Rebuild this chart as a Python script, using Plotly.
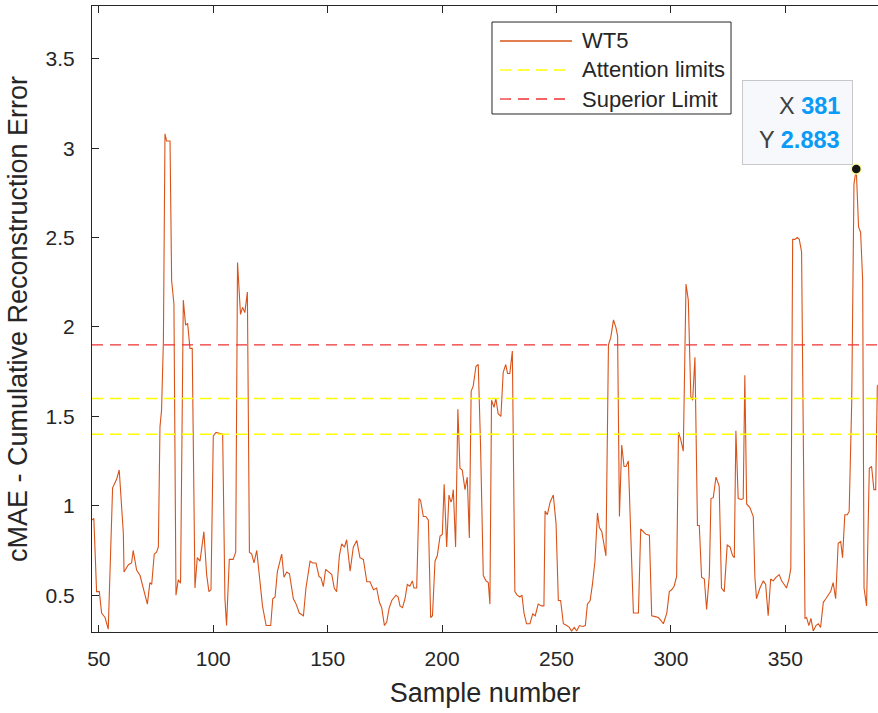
import plotly.graph_objects as go

# ---- data ----
sample = [47, 47.8, 49.0, 50.2, 51.2, 52.7, 54.1, 56.0, 57.8, 58.9, 60.7, 61.0, 62.9, 64.3, 65.0,
          66.5, 68.0, 69.4, 71.2, 72.3, 73.1, 74.2, 75.2, 76.0, 76.7, 77.4, 78.2, 78.9, 79.6, 81.1,
          81.8, 82.8, 83.7, 84.7, 85.7, 86.9, 87.9, 88.8, 89.8, 90.8, 92.0, 93.0, 94.2, 95.9, 97.1,
          98.1, 99.0, 100.0, 101.2, 104.1, 105.1, 105.8, 107.0, 108.7, 109.8, 110.6, 111.9, 112.8, 113.8, 114.9,
          115.8, 116.8, 117.8, 119.0, 120.2, 121.5, 123.1, 125.1, 126.0, 127.0, 128.0, 129.9, 130.9, 132.1, 133.3,
          135.0, 136.2, 137.6, 139.4, 140.5, 142.3, 143.5, 144.9, 146.2, 147.1, 148.1, 149.1, 150.7, 151.8, 152.9,
          153.9, 155.1, 156.1, 157.3, 158.3, 159.8, 161.2, 162.7, 164.1, 165.6, 167.1, 168.5, 170.0, 171.4, 172.6,
          173.6, 174.8, 175.8, 176.8, 178.0, 179.8, 180.8, 181.6, 182.7, 183.8, 184.8, 185.9, 187.0, 187.7, 188.9,
          189.9, 190.6, 191.8, 192.9, 194.0, 195.0, 195.8, 196.9, 197.9, 199.1, 200.1, 200.9, 202.0, 203.0, 203.9,
          204.4, 204.9, 205.9, 206.9, 207.8, 208.8, 210.0, 211.0, 211.9, 212.7, 213.6, 214.8, 215.8, 216.8, 218.0,
          219.2, 220.2, 220.9, 221.6, 222.7, 223.5, 224.5, 225.7, 226.7, 227.8, 228.6, 229.6, 230.7, 231.8, 232.8,
          234.0, 234.9, 235.8, 236.9, 238.4, 239.6, 240.7, 242.0, 243.5, 244.5, 245.0, 246.0, 247.2, 248.6, 249.8,
          250.8, 251.8, 253.0, 254.5, 255.6, 256.6, 257.8, 258.8, 260.0, 261.4, 262.6, 263.5, 264.7, 265.7, 266.8,
          267.9, 268.7, 269.8, 270.8, 271.6, 272.7, 273.7, 274.9, 276.0, 276.7, 277.5, 278.5, 279.5, 280.4, 281.4,
          282.4, 283.6, 285.0, 285.8, 286.8, 288.0, 289.1, 290.6, 291.6, 293.1, 294.5, 295.5, 296.7, 298.2, 299.3,
          300.3, 301.4, 302.5, 303.3, 304.3, 305.4, 306.6, 307.6, 308.7, 309.5, 310.5, 311.6, 312.4, 313.4, 314.6,
          315.6, 316.8, 317.5, 318.5, 319.7, 321.1, 322.1, 323.3, 324.6, 325.8, 327.0, 327.7, 328.4, 329.4, 330.9,
          331.6, 332.3, 333.1, 334.5, 336.0, 336.7, 337.4, 338.9, 340.4, 341.4, 342.5, 343.6, 344.7, 345.9, 347.3,
          348.4, 349.5, 350.5, 351.6, 352.4, 353.2, 354.2, 355.2, 356.1, 357.1, 358.6, 359.3, 360.3, 361.2, 362.2,
          363.4, 364.4, 365.4, 366.6, 367.7, 368.8, 369.8, 370.9, 372.0, 373.1, 374.2, 375.0, 376.0, 377.1, 377.9,
          379.0, 380.0, 381.0, 382.0, 382.9, 383.8, 384.4, 385.5, 386.7, 387.7, 388.7, 389.5, 390.2, 391.0]
wt5 = [0.92, 0.93, 0.52, 0.52, 0.40, 0.375, 0.31, 1.10, 1.15, 1.20, 0.845, 0.63, 0.67, 0.68, 0.75,
       0.64, 0.61, 0.54, 0.45, 0.57, 0.56, 0.73, 0.74, 0.77, 1.44, 1.535, 1.92, 3.08, 3.04, 3.04,
       2.26, 2.13, 0.50, 0.586, 0.567, 2.15, 2.01, 2.02, 1.88, 1.88, 0.54, 0.71, 0.69, 0.855, 0.615,
       0.52, 0.53, 1.39, 1.41, 1.40, 0.48, 0.33, 0.70, 0.70, 0.74, 2.36, 2.07, 2.11, 2.08, 2.195,
       0.74, 0.73, 0.68, 0.75, 0.58, 0.44, 0.33, 0.33, 0.48, 0.49, 0.63, 0.73, 0.60, 0.63, 0.62,
       0.48, 0.45, 0.40, 0.385, 0.54, 0.69, 0.68, 0.68, 0.605, 0.596, 0.548, 0.644, 0.625, 0.615, 0.538,
       0.519, 0.72, 0.787, 0.768, 0.81, 0.634, 0.768, 0.806, 0.71, 0.70, 0.575, 0.575, 0.53, 0.54, 0.46,
       0.43, 0.33, 0.35, 0.425, 0.47, 0.50, 0.49, 0.44, 0.43, 0.48, 0.56, 0.55, 0.58, 0.54, 0.54,
       1.04, 1.03, 0.94, 0.94, 0.92, 0.375, 0.385, 0.69, 0.72, 0.83, 0.84, 1.12, 0.77, 1.06, 1.02,
       1.04, 1.09, 0.77, 1.54, 1.21, 1.20, 1.09, 1.16, 0.82, 1.64, 1.67, 1.78, 1.79, 1.34, 0.61,
       0.58, 0.57, 0.45, 1.59, 1.55, 1.60, 1.515, 1.50, 1.745, 1.79, 1.74, 1.74, 1.865, 0.52, 0.50,
       0.49, 0.50, 0.40, 0.34, 0.34, 0.395, 0.385, 0.45, 0.44, 0.44, 0.97, 0.95, 1.02, 1.06, 0.90,
       0.47, 0.47, 0.34, 0.33, 0.32, 0.30, 0.32, 0.30, 0.33, 0.325, 0.33, 0.45, 0.47, 0.56, 0.69,
       0.96, 0.88, 0.855, 0.79, 0.72, 1.90, 1.94, 2.04, 1.995, 1.95, 0.94, 1.34, 1.22, 1.22, 1.25,
       0.86, 0.40, 0.40, 0.40, 0.87, 0.855, 0.84, 0.835, 0.385, 0.38, 0.375, 0.36, 0.34, 0.40, 0.52,
       0.53, 0.55, 0.605, 1.41, 1.37, 1.305, 2.24, 2.15, 1.61, 1.59, 1.83, 0.89, 0.89, 0.60, 0.59,
       0.42, 0.615, 1.04, 1.045, 1.16, 1.11, 0.54, 0.52, 0.78, 0.77, 0.72, 0.71, 1.42, 1.04, 1.035,
       1.04, 1.73, 1.01, 0.99, 0.94, 0.60, 0.48, 0.54, 0.58, 0.56, 0.385, 0.59, 0.58, 0.60, 0.615,
       0.58, 0.56, 0.54, 0.59, 0.65, 2.49, 2.49, 2.50, 2.49, 2.42, 0.37, 0.375, 0.33, 0.37, 0.30,
       0.33, 0.34, 0.32, 0.46, 0.48, 0.50, 0.52, 0.57, 0.48, 0.79, 0.80, 0.71, 0.95, 0.95, 0.97,
       1.57, 2.80, 2.883, 2.56, 2.53, 2.26, 0.54, 0.44, 1.21, 1.22, 1.09, 1.09, 1.67, 1.68]

attention_limits = [1.4, 1.6]
superior_limit = 1.9
limit_x = [47, 391]

series_names = ["WT5", "Attention limits", "Superior Limit"]

tip_x, tip_y = 381, 2.883

x_ticks = [50, 100, 150, 200, 250, 300, 350]
y_ticks = [0.5, 1, 1.5, 2, 2.5, 3, 3.5]
x_range = [47.0, 390.5]
y_range = [0.294, 3.795]

FONT = "Liberation Sans, Arial, Helvetica, sans-serif"
TXT = "#262626"
C_WT5 = "#D95319"
C_ATT = "#FFFF00"
C_SUP = "#F03030"
DASH = "11px,7px"

fig = go.Figure()

fig.add_trace(go.Scatter(
    x=sample, y=wt5, mode="lines", name=series_names[0], showlegend=False,
    line=dict(color=C_WT5, width=1.1)))

att_x, att_y = [], []
for v in attention_limits:
    att_x += limit_x + [None]
    att_y += [v, v, None]
fig.add_trace(go.Scatter(
    x=att_x, y=att_y, mode="lines", name=series_names[1], showlegend=False,
    line=dict(color=C_ATT, width=1.3, dash=DASH)))

fig.add_trace(go.Scatter(
    x=limit_x, y=[superior_limit] * 2, mode="lines", name=series_names[2], showlegend=False,
    line=dict(color=C_SUP, width=1.3, dash=DASH)))

fig.add_trace(go.Scatter(
    x=[tip_x], y=[tip_y], mode="markers", showlegend=False,
    marker=dict(size=10, color="#151515", line=dict(color="rgba(255,255,160,0.95)", width=1.5))))

# ---- legend box (MATLAB style) drawn in paper coordinates ----
fig.add_shape(type="rect", xref="paper", yref="paper",
              x0=0.5089, x1=0.8130, y0=0.8275, y1=0.9744,
              line=dict(color=TXT, width=1), fillcolor="white", layer="above")
leg_rows = [0.9441, 0.8978, 0.8514]
leg_styles = [(C_WT5, "solid", 1.3), (C_ATT, DASH, 1.3), (C_SUP, DASH, 1.3)]
for name, ry, (col, dsh, lw) in zip(series_names, leg_rows, leg_styles):
    fig.add_shape(type="line", xref="paper", yref="paper",
                  x0=0.5191, x1=0.6107, y0=ry, y1=ry,
                  line=dict(color=col, width=lw, dash=dsh), layer="above")
    fig.add_annotation(x=0.6210, y=ry, xref="paper", yref="paper", showarrow=False,
                       text=name, xanchor="left", yanchor="middle",
                       font=dict(family=FONT, size=22, color=TXT))

# ---- datatip ----
fig.add_annotation(x=tip_x, y=tip_y, xref="x", yref="y", showarrow=False,
                   text=" ", width=95, height=69, borderpad=7,
                   bgcolor="#F6F8FC", bordercolor="#C8C8CC", borderwidth=1,
                   xanchor="right", yanchor="bottom", xshift=-3, yshift=4)
fig.add_annotation(x=tip_x, y=tip_y, xref="x", yref="y", showarrow=False,
                   text="X <b><span style='color:#0A9BF5'>%d</span></b>" % tip_x,
                   font=dict(family=FONT, size=23.5, color="#404040"),
                   xanchor="right", yanchor="middle", xshift=-14, yshift=63)
fig.add_annotation(x=tip_x, y=tip_y, xref="x", yref="y", showarrow=False,
                   text="Y <b><span style='color:#0A9BF5'>%.3f</span></b>" % tip_y,
                   font=dict(family=FONT, size=23.5, color="#404040"),
                   xanchor="right", yanchor="middle", xshift=-14, yshift=29)

fig.update_layout(
    width=878, height=713,
    margin=dict(l=92, r=0, t=6, b=81),
    paper_bgcolor="white", plot_bgcolor="white",
    font=dict(family=FONT, color=TXT),
    showlegend=False,
    xaxis=dict(range=x_range, tickvals=x_ticks, ticktext=[str(t) for t in x_ticks],
               showgrid=False, zeroline=False, showline=True, linecolor=TXT, linewidth=1,
               mirror="ticks", ticks="inside", ticklen=7, tickcolor=TXT,
               tickfont=dict(size=21, color=TXT), ticklabelstandoff=8,
               title=dict(text="Sample number", font=dict(size=27, color=TXT), standoff=13)),
    yaxis=dict(range=y_range, tickvals=y_ticks, ticktext=[("%g" % t) for t in y_ticks],
               showgrid=False, zeroline=False, showline=True, linecolor=TXT, linewidth=1,
               mirror=False, ticks="inside", ticklen=7, tickcolor=TXT,
               tickfont=dict(size=21, color=TXT), ticklabelstandoff=12,
               title=dict(text="cMAE - Cumulative Reconstruction Error", font=dict(size=27, color=TXT), standoff=10)),
)

fig.write_html("out.html")
